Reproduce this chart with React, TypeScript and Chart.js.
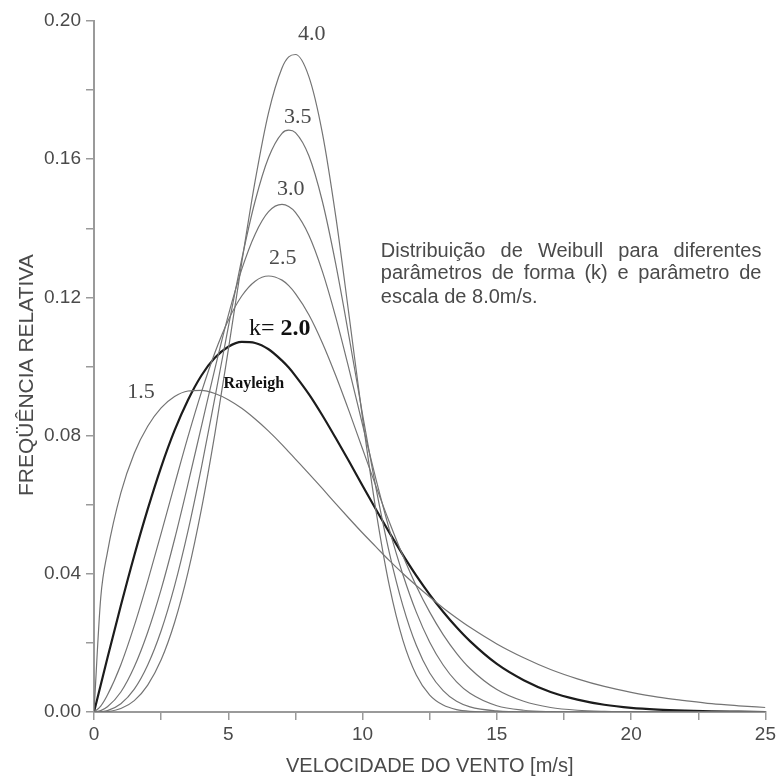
import React, { useEffect, useRef } from 'react';
import { Chart, registerables } from 'chart.js';

Chart.register(...registerables);

// Wind speed (m/s) sample positions
const speeds = [0, 0.25, 0.5, 1, 1.5, 2, 2.5, 3, 3.5, 4, 4.5, 5, 5.5, 6, 6.5, 7, 7.25, 7.5, 8, 8.5, 9, 9.5, 10, 10.5, 11, 11.5, 12, 12.5, 13, 13.5, 14, 15, 16, 17, 18, 19, 20, 21, 22, 23, 24, 25];

// Relative frequency for each shape parameter k (scale 8.0 m/s)
const k15 = [0, 0.0330, 0.0462, 0.0634, 0.0749, 0.0827, 0.0880, 0.0913, 0.0929, 0.0931, 0.0922, 0.0904, 0.0879, 0.0848, 0.0813, 0.0774, 0.0753, 0.0732, 0.0690, 0.0647, 0.0603, 0.0560, 0.0518, 0.0478, 0.0438, 0.0401, 0.0366, 0.0333, 0.0301, 0.0272, 0.0245, 0.0197, 0.0157, 0.0123, 0.0096, 0.0074, 0.0057, 0.0043, 0.0033, 0.0024, 0.0018, 0.0013];
const k20 = [0, 0.0078, 0.0156, 0.0308, 0.0453, 0.0587, 0.0709, 0.0815, 0.0903, 0.0974, 0.1025, 0.1057, 0.1071, 0.1068, 0.1050, 0.1017, 0.0997, 0.0973, 0.0920, 0.0859, 0.0793, 0.0725, 0.0655, 0.0586, 0.0519, 0.0455, 0.0395, 0.0340, 0.0290, 0.0245, 0.0205, 0.0139, 0.0092, 0.0058, 0.0036, 0.0021, 0.0012, 0.0007, 0.0004, 0.0002, 0.0001, 0.0000];
const k25 = [0, 0.0017, 0.0049, 0.0137, 0.0250, 0.0379, 0.0517, 0.0658, 0.0797, 0.0926, 0.1040, 0.1134, 0.1204, 0.1247, 0.1262, 0.1250, 0.1234, 0.1211, 0.1150, 0.1069, 0.0974, 0.0870, 0.0761, 0.0653, 0.0549, 0.0452, 0.0365, 0.0289, 0.0224, 0.0170, 0.0126, 0.0065, 0.0031, 0.0013, 0.0005, 0.0002, 0.0001, 0, 0, 0, 0, 0];
const k30 = [0, 0.0004, 0.0015, 0.0058, 0.0131, 0.0231, 0.0355, 0.0500, 0.0660, 0.0827, 0.0993, 0.1148, 0.1281, 0.1383, 0.1448, 0.1469, 0.1463, 0.1446, 0.1380, 0.1276, 0.1143, 0.0991, 0.0831, 0.0673, 0.0527, 0.0398, 0.0289, 0.0202, 0.0136, 0.0087, 0.0054, 0.0018, 0.0005, 0.0001, 0, 0, 0, 0, 0, 0, 0, 0];
const k35 = [0, 0.0001, 0.0004, 0.0024, 0.0066, 0.0136, 0.0235, 0.0365, 0.0524, 0.0708, 0.0909, 0.1114, 0.1310, 0.1479, 0.1605, 0.1675, 0.1684, 0.1677, 0.1610, 0.1479, 0.1297, 0.1084, 0.0861, 0.0648, 0.0460, 0.0308, 0.0193, 0.0113, 0.0062, 0.0031, 0.0015, 0.0003, 0, 0, 0, 0, 0, 0, 0, 0, 0, 0];
const k40 = [0, 0.0000, 0.0001, 0.0010, 0.0033, 0.0078, 0.0151, 0.0259, 0.0404, 0.0587, 0.0805, 0.1048, 0.1300, 0.1537, 0.1735, 0.1864, 0.1896, 0.1903, 0.1839, 0.1677, 0.1435, 0.1146, 0.0850, 0.0582, 0.0364, 0.0208, 0.0107, 0.0049, 0.0020, 0.0007, 0.0002, 0, 0, 0, 0, 0, 0, 0, 0, 0, 0, 0];

// Curve labels: text and anchor (x in m/s, y in relative frequency)
const curveLabelTexts = ['4.0', '3.5', '3.0', '2.5', '1.5'];
const curveLabelX = [8.11, 7.59, 7.33, 7.03, 1.75];
const curveLabelY = [0.1962, 0.1722, 0.1514, 0.1314, 0.0926];

const kLabelPrefix = 'k=';
const kLabelValue = '2.0';
const kLabelAt = [6.92, 0.1108];
const rayleighText = 'Rayleigh';
const rayleighAt = [5.95, 0.0949];

const noteLines = [
  'Distribuição de Weibull para diferentes',
  'parâmetros de forma (k) e parâmetro de',
  'escala de 8.0m/s.',
];
const noteLeftX = 10.68;
const noteRightX = 24.85;
const noteBaselinesY = [0.1318, 0.1252, 0.1185];

const xTitle = 'VELOCIDADE DO VENTO [m/s]';
const yTitle = 'FREQÜÊNCIA RELATIVA';
const yTitleCenter = 0.0975;

const SANS = '"Liberation Sans", Arial, Helvetica, sans-serif';
const SERIF = '"Liberation Serif", "Times New Roman", serif';

const annotationPlugin = {
  id: 'weibullAnnotations',
  afterDatasetsDraw(chart: any) {
    const { ctx, scales } = chart;
    const xs = scales.x;
    const ys = scales.y;
    ctx.save();
    // curve labels
    ctx.fillStyle = '#4a4a4a';
    ctx.font = `22px ${SERIF}`;
    ctx.textAlign = 'center';
    ctx.textBaseline = 'middle';
    curveLabelTexts.forEach((t, i) => {
      ctx.fillText(t, xs.getPixelForValue(curveLabelX[i]), ys.getPixelForValue(curveLabelY[i]));
    });

    // k= 2.0
    ctx.fillStyle = '#111';
    const regFont = `24px ${SERIF}`;
    const boldFont = `bold 24px ${SERIF}`;
    ctx.font = regFont;
    const w1 = ctx.measureText(kLabelPrefix + ' ').width;
    ctx.font = boldFont;
    const w2 = ctx.measureText(kLabelValue).width;
    const kcx = xs.getPixelForValue(kLabelAt[0]);
    const kcy = ys.getPixelForValue(kLabelAt[1]);
    const sx = kcx - (w1 + w2) / 2;
    ctx.textAlign = 'left';
    ctx.font = regFont;
    ctx.fillText(kLabelPrefix, sx, kcy);
    ctx.font = boldFont;
    ctx.fillText(kLabelValue, sx + w1, kcy);

    // Rayleigh
    ctx.font = `bold 16px ${SERIF}`;
    ctx.textAlign = 'center';
    ctx.fillText(rayleighText, xs.getPixelForValue(rayleighAt[0]), ys.getPixelForValue(rayleighAt[1]));

    // justified note
    ctx.fillStyle = '#4a4a4a';
    ctx.font = `20px ${SANS}`;
    ctx.textAlign = 'left';
    ctx.textBaseline = 'alphabetic';
    const left = xs.getPixelForValue(noteLeftX);
    const right = xs.getPixelForValue(noteRightX);
    noteLines.forEach((line, i) => {
      const by = ys.getPixelForValue(noteBaselinesY[i]);
      const words = line.split(' ');
      if (i === noteLines.length - 1 || words.length < 2) {
        ctx.fillText(line, left, by);
        return;
      }
      const wordsW = words.reduce((s, w) => s + ctx.measureText(w).width, 0);
      const gap = (right - left - wordsW) / (words.length - 1);
      let px = left;
      words.forEach((w) => {
        ctx.fillText(w, px, by);
        px += ctx.measureText(w).width + gap;
      });
    });

    // y-axis title
    ctx.font = `21px ${SANS}`;
    ctx.textAlign = 'center';
    ctx.textBaseline = 'middle';
    ctx.translate(27, ys.getPixelForValue(yTitleCenter));
    ctx.rotate(-Math.PI / 2);
    ctx.fillText(yTitle, 0, 0);
    ctx.restore();
  },
};

export default function App() {
  const canvasRef = useRef<HTMLCanvasElement | null>(null);

  useEffect(() => {
    if (!canvasRef.current) return;
    const mk = (arr: number[]) => speeds.map((s, i) => ({ x: s, y: arr[i] }));
    const thin = { borderColor: '#747474', borderWidth: 1.2 };
    const chart = new Chart(canvasRef.current, {
      type: 'line',
      data: {
        datasets: [
          { label: 'k=1.5', data: mk(k15), ...thin },
          { label: 'k=2.5', data: mk(k25), ...thin },
          { label: 'k=3.0', data: mk(k30), ...thin },
          { label: 'k=3.5', data: mk(k35), ...thin },
          { label: 'k=4.0', data: mk(k40), ...thin },
          { label: 'k=2.0', data: mk(k20), borderColor: '#1c1c1c', borderWidth: 2.2 },
        ],
      },
      options: {
        responsive: false,
        animation: false,
        layout: { padding: { top: 21, right: 13, left: 0, bottom: 0 } },
        elements: {
          point: { radius: 0 },
          line: { cubicInterpolationMode: 'monotone', fill: false },
        },
        plugins: { legend: { display: false }, tooltip: { enabled: false } },
        scales: {
          x: {
            type: 'linear',
            min: 0,
            max: 25,
            ticks: {
              stepSize: 2.5,
              autoSkip: false,
              maxRotation: 0,
              color: '#4a4a4a',
              font: { family: SANS, size: 19 },
              padding: 3,
              callback: (v: any) => (Number(v) % 5 === 0 ? String(v) : ''),
            },
            grid: { drawOnChartArea: false, drawTicks: true, tickLength: 8, color: '#9a9a9a', lineWidth: 1.5 },
            border: { display: true, color: '#9a9a9a', width: 2 },
            title: {
              display: true,
              text: xTitle,
              color: '#4a4a4a',
              font: { family: SANS, size: 20 },
              padding: { top: 0, bottom: 5 },
            },
            afterFit: (s: any) => {
              s.height = 71;
            },
          },
          y: {
            type: 'linear',
            min: 0,
            max: 0.2,
            ticks: {
              stepSize: 0.02,
              autoSkip: false,
              color: '#4a4a4a',
              font: { family: SANS, size: 19 },
              padding: 5,
              callback: (v: any) => (Math.round(Number(v) * 100) % 4 === 0 ? Number(v).toFixed(2) : ''),
            },
            grid: { drawOnChartArea: false, drawTicks: true, tickLength: 8, color: '#9a9a9a', lineWidth: 1.5 },
            border: { display: true, color: '#9a9a9a', width: 2 },
            afterFit: (s: any) => {
              s.width = 94;
            },
          },
        },
      } as any,
      plugins: [annotationPlugin],
    });
    return () => chart.destroy();
  }, []);

  return (
    <div style={{ position: 'absolute', left: 0, top: 0, width: 779, height: 783, background: '#fff' }}>
      <canvas ref={canvasRef} width={779} height={783} style={{ width: 779, height: 783 }} />
    </div>
  );
}
